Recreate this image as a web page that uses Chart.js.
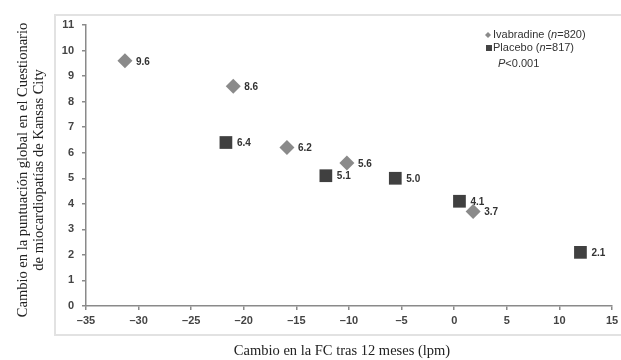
<!DOCTYPE html>
<html>
<head>
<meta charset="utf-8">
<script src="https://cdn.jsdelivr.net/npm/chart.js@4/dist/chart.umd.min.js"></script>
<style>
  html, body { margin: 0; padding: 0; background: #fff; }
  #wrap { width: 621px; height: 360px; position: relative; }
</style>
</head>
<body>
<div id="wrap"><canvas id="kccqChart" width="621" height="360"></canvas></div>
<script>
// Ivabradina: cambio de FC (x) y cambio en la puntuación KCCQ (y)
const ivabX = [-31.3, -21.0, -15.9, -10.2, 1.8];
const ivabY = [9.6, 8.6, 6.2, 5.6, 3.7];
// Placebo
const placX = [-21.7, -12.2, -5.6, 0.5, 12.0];
const placY = [6.4, 5.1, 5.0, 4.1, 2.1];

const xTicks = [-35, -30, -25, -20, -15, -10, -5, 0, 5, 10, 15];
const yTicks = [0, 1, 2, 3, 4, 5, 6, 7, 8, 9, 10, 11];

const yTitle = ['Cambio en la puntuación global en el Cuestionario', 'de miocardiopatías de Kansas City'];
const xTitle = 'Cambio en la FC tras 12 meses (lpm)';

const toPoints = (xs, ys) => xs.map((x, i) => ({ x: x, y: ys[i] }));

const SANS = '"Liberation Sans", Arial, sans-serif';
const SERIF = '"Liberation Serif", "Times New Roman", serif';

// marco exterior, títulos, leyenda y etiquetas de valor
const decor = {
    id: 'decor',
    beforeDraw(chart) {
        const ctx = chart.ctx;
        ctx.save();
        ctx.strokeStyle = '#e2e2e2';
        ctx.lineWidth = 2;
        ctx.strokeRect(55, 15, 580, 320);
        ctx.restore();
    },
    afterDatasetsDraw(chart) {
        const ctx = chart.ctx;
        ctx.save();
        ctx.fillStyle = '#333';
        ctx.font = 'bold 10px ' + SANS;
        ctx.textAlign = 'left';
        ctx.textBaseline = 'middle';
        chart.data.datasets.forEach((ds, di) => {
            const meta = chart.getDatasetMeta(di);
            meta.data.forEach((pt, i) => {
                ctx.fillText(ds.data[i].y.toFixed(1), pt.x + 11, pt.y + 1);
            });
        });

        // títulos de los ejes
        ctx.fillStyle = '#222';
        ctx.font = '14.5px ' + SERIF;
        ctx.textAlign = 'center';
        ctx.fillText(xTitle, 342, 351);
        ctx.translate(0, 170);
        ctx.rotate(-Math.PI / 2);
        ctx.fillText(yTitle[0], 0, 23);
        ctx.fillText(yTitle[1], 0, 39);
        ctx.restore();

        // leyenda
        ctx.save();
        ctx.fillStyle = '#8a8a8a';
        ctx.beginPath();
        ctx.moveTo(488, 32); ctx.lineTo(491, 35); ctx.lineTo(488, 38); ctx.lineTo(485, 35);
        ctx.closePath();
        ctx.fill();
        ctx.fillStyle = '#444';
        ctx.fillRect(486, 45, 6, 6);
        ctx.fillStyle = '#333';
        ctx.textBaseline = 'middle';
        ctx.textAlign = 'left';
        const legendRows = [
            [['Ivabradine (', false], ['n', true], ['=820)', false]],
            [['Placebo (', false], ['n', true], ['=817)', false]]
        ];
        legendRows.forEach((parts, r) => {
            let x = 493;
            const y = 35 + r * 13;
            parts.forEach(([txt, it]) => {
                ctx.font = (it ? 'italic ' : '') + '11px ' + SANS;
                ctx.fillText(txt, x, y);
                x += ctx.measureText(txt).width;
            });
        });
        ctx.font = 'italic 11px ' + SANS;
        ctx.fillText('P', 498, 64);
        const pw = ctx.measureText('P').width;
        ctx.font = '11px ' + SANS;
        ctx.fillText('<0.001', 498 + pw, 64);
        ctx.restore();
    }
};

const axisStyle = {
    grid: { drawOnChartArea: false, drawTicks: true, tickLength: 4, color: '#8a8a8a', lineWidth: 1.5 },
    border: { color: '#8a8a8a', width: 1.5 },
    ticks: {
        color: '#444',
        font: { family: SANS, size: 11, weight: 'bold' },
        callback: v => String(v).replace('-', '\u2013')
    }
};

new Chart(document.getElementById('kccqChart'), {
    type: 'scatter',
    data: {
        datasets: [{
            label: 'Ivabradine (n=820)',
            data: toPoints(ivabX, ivabY),
            pointStyle: 'rectRot',
            pointRadius: 7.5,
            backgroundColor: '#8a8a8a',
            borderColor: '#8a8a8a',
            borderWidth: 0
        }, {
            label: 'Placebo (n=817)',
            data: toPoints(placX, placY),
            pointStyle: 'rect',
            pointRadius: 9,
            backgroundColor: '#404040',
            borderColor: '#404040',
            borderWidth: 0
        }]
    },
    options: {
        responsive: false,
        animation: false,
        layout: { padding: { left: 46, top: 25, right: 7, bottom: 34 } },
        plugins: {
            legend: { display: false },
            tooltip: { enabled: false }
        },
        scales: {
            x: {
                ...axisStyle,
                min: -35, max: 15,
                afterBuildTicks: s => { s.ticks = xTicks.map(v => ({ value: v })); },
                ticks: { ...axisStyle.ticks, maxRotation: 0, padding: 4 },
                afterFit: s => { s.height = 20; s.paddingRight = 0; s.paddingLeft = 0; }
            },
            y: {
                ...axisStyle,
                min: 0, max: 11,
                afterBuildTicks: s => { s.ticks = yTicks.map(v => ({ value: v })); },
                ticks: { ...axisStyle.ticks, padding: 8 },
                afterFit: s => { s.width = 40; s.paddingTop = 0; s.paddingBottom = 0; }
            }
        }
    },
    plugins: [decor]
});
</script>
</body>
</html>
